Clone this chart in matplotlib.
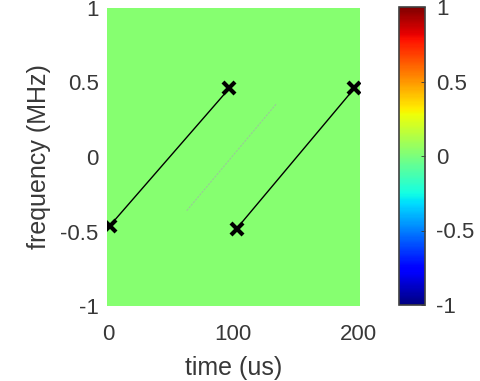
import numpy as np
import matplotlib
matplotlib.use("Agg")
import matplotlib.pyplot as plt

plt.rcParams['font.family'] = ['Liberation Sans', 'DejaVu Sans']

# spectrogram-like background (almost flat, value ~0.03)
bg_level = 0.03
img = np.full((64, 64), bg_level)

# chirp endpoints (time in us, freq in MHz)
chirp1_t = [1.6, 97.0]
chirp1_f = [-0.46, 0.46]
chirp2_t = [103.0, 197.0]
chirp2_f = [-0.48, 0.46]
ghost_t = [63.0, 135.0]
ghost_f = [-0.36, 0.36]

xticks = [0, 100, 200]
yticks = [-1, -0.5, 0, 0.5, 1]
cticks = [-1, -0.5, 0, 0.5, 1]

txt = '#383838'

fig = plt.figure(figsize=(4.81, 3.81), dpi=100)
ax = fig.add_axes([107/481, 1 - 306/381, 253/481, 298/381])
im = ax.imshow(img, cmap='jet', vmin=-1, vmax=1, aspect='auto',
               extent=[-0.8, 201.6, -1, 1], origin='lower', interpolation='nearest')
ax.plot(ghost_t, ghost_f, color='#9cc0a0', lw=0.8, alpha=0.8, ls=(0, (2, 1)))
for t, f in [(chirp1_t, chirp1_f), (chirp2_t, chirp2_f)]:
    ax.plot(t, f, color='black', lw=1.0)
    ax.plot(t, f, 'x', color='black', ms=8, mew=3, ls='none')
ax.set_xlim(-0.8, 201.6)
ax.set_ylim(-1, 1)
ax.set_xticks(xticks)
ax.set_yticks(yticks)
ax.set_xticklabels([str(v) for v in xticks])
ax.set_yticklabels(['-1', '-0.5', '0', '0.5', '1'])
ax.tick_params(length=0, labelsize=16, colors=txt)
ax.tick_params(axis='x', pad=13)
ax.tick_params(axis='y', pad=6)
for s in ax.spines.values():
    s.set_visible(False)
ax.set_xlabel('time (us)', fontsize=18, color=txt, labelpad=8)
ax.set_ylabel('frequency (MHz)', fontsize=18, color=txt, labelpad=7)

cax = fig.add_axes([399/481, 1 - 305/381, 26/481, 298/381])
cb = fig.colorbar(im, cax=cax, ticks=cticks)
cb.ax.set_yticklabels(['-1', '-0.5', '0', '0.5', '1'])
cb.ax.tick_params(direction='in', length=3, width=0.6, labelsize=16,
                  colors=txt, pad=8)
cb.outline.set_edgecolor('#404040')
cb.outline.set_linewidth(1.2)

fig.savefig('out.png', dpi=100)
